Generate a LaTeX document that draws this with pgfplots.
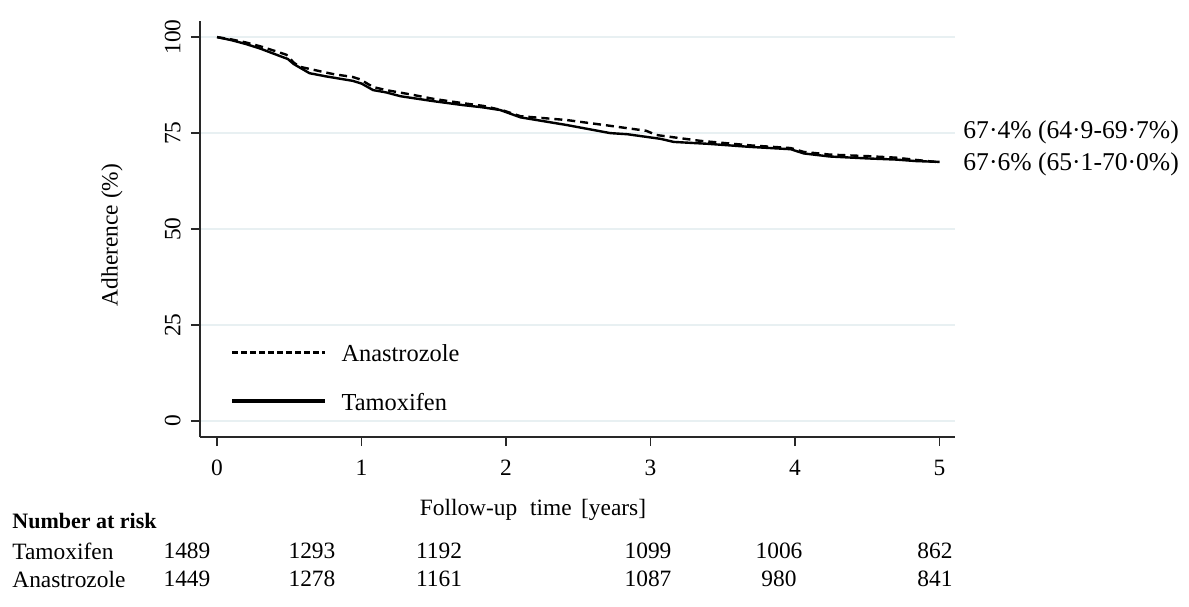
\documentclass[border=0pt]{standalone}
\usepackage{fontspec}
\setmainfont{Liberation Serif}
\usepackage{pgfplots}
\pgfplotsset{compat=1.18}
\definecolor{gridc}{RGB}{232,240,242}
\definecolor{axc}{RGB}{40,40,40}

\begin{document}
\fontsize{11.7}{14}\selectfont
\begin{tikzpicture}
  % fixed page: 1px of the reference = 0.5pt
  \useasboundingbox (-100pt,-84.5pt) rectangle (494.5pt,218.5pt);
  \begin{axis}[
      scale only axis,
      width=377.5pt,
      height=208pt,
      xmin=-0.118, xmax=5.107,
      ymin=-4.17, ymax=104.2,
      axis x line*=bottom,
      axis y line*=left,
      axis line style={-, axc, line width=0.7pt},
      xtick={0,1,2,3,4,5},
      ytick={0,25,50,75,100},
      tick align=outside,
      major tick length=4.5pt,
      tick style={axc, line width=0.7pt},
      ymajorgrids,
      grid style={gridc, line width=0.8pt},
      /pgf/number format/assume math mode=true,
      yticklabel style={rotate=90, anchor=south, inner sep=0pt, yshift=5pt},
      xticklabel style={anchor=north, inner sep=0pt, yshift=-7pt},
      xlabel={Follow-up\hspace{0.55em}time\hspace{0.4em}[years]},
      xlabel style={at={(axis description cs:0.441,0)}, anchor=center, yshift=-36.5pt},
      ylabel={Adherence (\%)},
      ylabel style={at={(axis description cs:-0.1166,0.4856)}, anchor=center},
      clip=false,
      legend style={
        at={(axis description cs:0.0397,0.139)},
        anchor=west,
        draw=none, fill=none,
        inner sep=0pt,
        row sep=14pt,
        nodes={inner sep=0pt},
        font=\fontsize{12.2}{14}\selectfont,
      },
      legend cell align=left,
    ]

    % Anastrozole (dashed)
    \addplot[black, line width=1.2pt, dash pattern=on 4pt off 2.5pt,
      legend image code/.code={
        \draw[black, line width=1.5pt, dash pattern=on 3pt off 1.5pt] (0pt,1pt) -- (46.5pt,1pt);
        \path (54pt,1pt);
      }]
    table[row sep=\\] {
      x     y \\
      0     100 \\
      0.10  99.4 \\
      0.20  98.6 \\
      0.30  97.6 \\
      0.40  96.4 \\
      0.48  95.4 \\
      0.53  93.4 \\
      0.57  92.3 \\
      0.69  91.3 \\
      0.80  90.4 \\
      0.94  89.6 \\
      0.99  89.0 \\
      1.08  87.0 \\
      1.17  86.2 \\
      1.35  85.0 \\
      1.50  83.9 \\
      1.70  82.8 \\
      1.84  82.1 \\
      1.98  80.9 \\
      2.10  79.4 \\
      2.42  78.4 \\
      2.70  77.0 \\
      2.97  75.6 \\
      3.04  74.5 \\
      3.34  73.0 \\
      3.69  71.8 \\
      3.97  71.1 \\
      4.06  70.1 \\
      4.24  69.4 \\
      4.50  69.0 \\
      4.70  68.6 \\
      4.84  68.0 \\
      5.00  67.4 \\
    };
    \addlegendentry{Anastrozole}

    % Tamoxifen (solid)
    \addplot[black, line width=1.2pt,
      legend image code/.code={
        \draw[black, line width=2pt] (0pt,1pt) -- (46.5pt,1pt);
        \path (54pt,1pt);
      }]
    table[row sep=\\] {
      x     y \\
      0     100 \\
      0.10  99.2 \\
      0.20  98.2 \\
      0.30  97.0 \\
      0.44  95.0 \\
      0.49  94.3 \\
      0.53  93.0 \\
      0.64  90.6 \\
      0.75  89.8 \\
      0.94  88.6 \\
      1.00  87.9 \\
      1.08  86.2 \\
      1.17  85.6 \\
      1.27  84.6 \\
      1.50  83.3 \\
      1.70  82.3 \\
      1.84  81.7 \\
      1.96  81.0 \\
      2.10  79.1 \\
      2.42  77.1 \\
      2.72  75.0 \\
      2.84  74.7 \\
      3.07  73.5 \\
      3.16  72.7 \\
      3.40  72.2 \\
      3.69  71.4 \\
      3.97  70.8 \\
      4.06  69.7 \\
      4.24  68.9 \\
      4.50  68.4 \\
      4.70  68.1 \\
      4.84  67.7 \\
      5.00  67.5 \\
    };
    \addlegendentry{Tamoxifen}
  \end{axis}

  % estimates at 5 years
  \begin{scope}[font=\fontsize{12.8}{15}\selectfont]
    \node[anchor=west, inner sep=0pt] at (381.5pt,152.5pt) {67·4\% (64·9-69·7\%)};
    \node[anchor=west, inner sep=0pt] at (381.5pt,136.5pt) {67·6\% (65·1-70·0\%)};
  \end{scope}

  % number at risk table
  \node[anchor=west, inner sep=0pt, font=\fontsize{11}{13}\selectfont\bfseries] at (-94pt,-42pt) {Number at risk};
  \node[anchor=west, inner sep=0pt] at (-94pt,-57pt) {Tamoxifen};
  \node[anchor=west, inner sep=0pt] at (-94pt,-71pt) {Anastrozole};
  \foreach \xx/\a/\b in {-6.5/1489/1449, 56/1293/1278, 119.5/1192/1161,
                         224/1099/1087, 289.5/1006/980, 367.5/862/841} {
    \node[inner sep=0pt] at (\xx pt,-57pt) {\a};
    \node[inner sep=0pt] at (\xx pt,-71pt) {\b};
  }
\end{tikzpicture}
\end{document}
